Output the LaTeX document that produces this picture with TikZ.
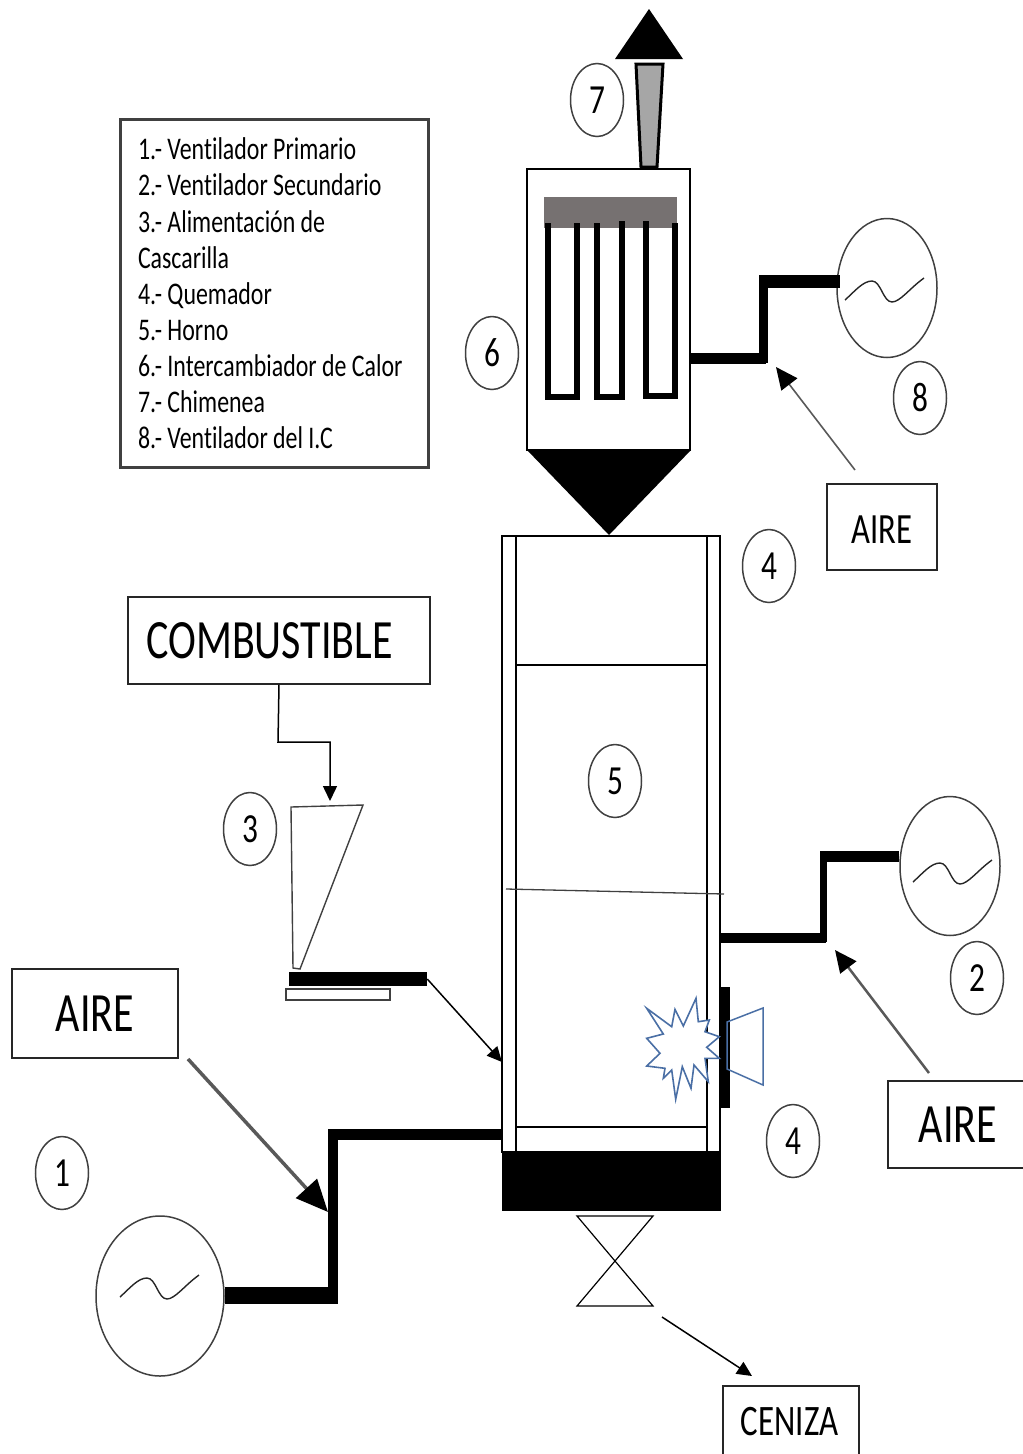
\documentclass[tikz,border=0pt]{standalone}
\usepackage{fontspec}
\setmainfont{Carlito}[Ligatures=NoCommon]
\usepackage{graphicx}
\usepackage{tikz}
\usetikzlibrary{arrows.meta,shapes.geometric,calc}
\definecolor{cLine}{HTML}{262626}
\definecolor{cEdge}{HTML}{404040}
\definecolor{cBand}{HTML}{767171}
\definecolor{cFlue}{HTML}{A6A6A6}
\definecolor{cFlame}{HTML}{4A6FA5}
\definecolor{cAir}{HTML}{595959}
\newcommand{\px}{0.75pt}
\newcommand{\tall}[1]{\scalebox{1}[1.32]{#1}}
\tikzset{
  node-box/.style={draw=cLine,line width=1.5*\px,inner sep=0pt,align=center},
  node-mark/.style={draw=cEdge,line width=1.5*\px,ellipse,inner sep=0pt,
    minimum width=53*\px,minimum height=73*\px,font=\fontsize{23.5}{28}\selectfont},
  node-fan/.style={draw=cEdge,line width=1.5*\px,ellipse,inner sep=0pt},
  node-wall/.style={draw=black,line width=1.5*\px,inner sep=0pt},
  duct/.style={draw=black,line cap=rect},
  tube/.style={draw=black,line width=6*\px,line cap=rect},
  wire/.style={draw=cLine,line width=1.4*\px},
  arrow-feed/.style={-{Triangle[length=15*\px,width=14*\px]},draw=black,line width=1.5*\px},
  arrow-air/.style={-{Triangle[length=22*\px,width=20*\px,color=black]},draw=cAir,line width=2.5*\px},
  arrow-main/.style={-{Triangle[length=32*\px,width=28*\px,color=black]},draw=cAir,line width=3.5*\px},
}
\begin{document}
\begin{tikzpicture}[x=0.75pt,y=-0.75pt]
  \useasboundingbox (0,0) rectangle (1022,1454);

  % leyenda
  \node[node-box,draw=cEdge,line width=3*\px,minimum width=308*\px,minimum height=348*\px] (legend) at (274,293)
    {\tall{\parbox{204pt}{\vspace*{0.4pt}\raggedright\fontsize{17.9}{20.5}\selectfont
      1.- Ventilador Primario\\2.- Ventilador Secundario\\3.- Alimentación de\\Cascarilla\\4.- Quemador\\
      5.- Horno\\6.- Intercambiador de Calor\\7.- Chimenea\\8.- Ventilador del I.C}}};

  % cajas de texto
  \node[node-box,minimum width=302*\px,minimum height=87*\px,font=\fontsize{31.5}{36}\selectfont] (fuel) at (279,640.5) {\tall{COMBUSTIBLE\hspace{14pt}}};
  \node[node-box,minimum width=166*\px,minimum height=89*\px,font=\fontsize{31.5}{36}\selectfont] (air-a) at (95,1013.5) {\tall{AIRE}};
  \node[node-box,minimum width=140*\px,minimum height=87*\px,font=\fontsize{31.5}{36}\selectfont] (air-b) at (958,1124.5) {\tall{AIRE}};
  \node[node-box,minimum width=110*\px,minimum height=86*\px,font=\fontsize{24.5}{28}\selectfont] (air-c) at (882,527) {\raisebox{-12.6pt}[14pt][14pt]{\tall{AIRE}}};
  \node[node-box,minimum width=136*\px,minimum height=72*\px,font=\fontsize{24.7}{28}\selectfont] (ash) at (791,1422) {\tall{CENIZA\hspace{2pt}}};

  % horno
  \node[node-wall,minimum width=218*\px,minimum height=616*\px] (furnace) at (611,844) {};
  \draw[node-wall] (516,536) -- (516,1152);
  \draw[node-wall] (707,536) -- (707,1152);
  \draw[node-wall] (516,665) -- (707,665);
  \draw[node-wall] (516,1127) -- (707,1127);
  \draw[draw=cEdge,line width=1.3*\px] (506,889) -- (724,894);
  \node[fill=black,inner sep=0pt,minimum width=219*\px,minimum height=60*\px] (base) at (611,1181) {};
  \draw[node-wall,line width=1.2*\px] (577,1216) -- (653,1216) -- (577,1306) -- (653,1306) -- cycle;

  % intercambiador y chimenea
  \node[node-wall,minimum width=163*\px,minimum height=281*\px] (exch) at (608.5,309.5) {};
  \fill[black] (527,450) -- (691,450) -- (609,535) -- cycle;
  \node[fill=cBand,inner sep=0pt,minimum width=133*\px,minimum height=31*\px] (band) at (610.5,212.5) {};
  \draw[tube] (547.5,226) -- (547.5,397) -- (577,397) -- (577,226);
  \draw[tube] (597,226) -- (597,397) -- (622,397) -- (622,224);
  \draw[tube] (646,224) -- (646,396) -- (675,396) -- (675,226);
  \draw[fill=cFlue,draw=black,line width=3*\px] (636,64) -- (663,64) -- (657,167) -- (641,167) -- cycle;
  \fill[black] (615,59) -- (683,59) -- (649,9) -- cycle;

  % tolva
  \draw[draw=cEdge,line width=1.4*\px] (291,807) -- (363,805) -- (300,969) -- (293,968) -- cycle;
  \node[fill=black,inner sep=0pt,minimum width=138*\px,minimum height=14*\px] (feeder) at (358,979) {};
  \node[node-wall,draw=cEdge,minimum width=104*\px,minimum height=11*\px] (tray) at (338,994.5) {};

  % quemador
  \node[fill=black,inner sep=0pt,minimum width=10*\px,minimum height=121*\px] (burner) at (725,1047.5) {};
  \draw[draw=cFlame,line width=1.5*\px] (727,1022) -- (763,1008) -- (763,1085) -- (727,1069) -- cycle;
  \draw[draw=cFlame,fill=white,line width=1.6*\px] (646.7,1008.3) -- (671.7,1026.7) -- (675,1009.3) -- (683.3,1026) -- (696,998.3)
    -- (698.3,1021.7) -- (709.3,1020) -- (705,1031.7) -- (719.3,1036.7) -- (706.7,1047.3) -- (719.3,1058.3)
    -- (705,1058.3) -- (708.3,1081.7) -- (694,1065) -- (691,1088.3) -- (682.3,1066.7) -- (675.7,1099.3)
    -- (671.7,1070) -- (663.3,1078.3) -- (665,1068.3) -- (646.7,1066) -- (660,1053.3) -- (646.7,1038.3) -- (663.3,1034) -- cycle;

  % ventiladores
  \node[node-fan,minimum width=128*\px,minimum height=160*\px] (fan-a) at (160,1296) {};
  \node[node-fan,minimum width=100*\px,minimum height=139*\px] (fan-b) at (950,866) {};
  \node[node-fan,minimum width=100*\px,minimum height=139*\px] (fan-c) at (887,288) {};
  \foreach \sx/\sy in {120/1297,913/882,845/300}
    \draw[wire,shift={(\sx,\sy)}] (0,0) .. controls (10,-9) and (18,-19) .. (27,-19)
      .. controls (36,-19) and (38,2) .. (47,2) .. controls (55,2) and (65,-12) .. (79,-22);

  % conductos
  \coordinate (duct-a1) at (333,1295.5);
  \coordinate (duct-a2) at (333,1134);
  \coordinate (duct-b1) at (823,938);
  \coordinate (duct-b2) at (823,856);
  \coordinate (duct-c1) at (763,358);
  \coordinate (duct-c2) at (763,281);
  \draw[duct,line width=17*\px,line cap=butt] (fan-a.east |- duct-a1) -- ($(duct-a1)+(5,0)$);
  \draw[duct,line width=10*\px] (duct-a1) -- (duct-a2);
  \draw[duct,line width=11*\px,line cap=butt] ($(duct-a2)+(-5,0)$) -- (duct-a2 -| furnace.west);
  \draw[duct,line width=10*\px,line cap=butt] (furnace.east |- duct-b1) -- ($(duct-b1)+(3,0)$);
  \draw[duct,line width=7*\px] (duct-b1) -- (duct-b2);
  \draw[duct,line width=11*\px,line cap=butt] ($(duct-b2)+(-3,0)$) -- (fan-b.west |- duct-b2);
  \draw[duct,line width=11*\px,line cap=butt] (exch.east |- duct-c1) -- ($(duct-c1)+(3,0)$);
  \draw[duct,line width=9*\px] (duct-c1) -- (duct-c2);
  \draw[duct,line width=13*\px,line cap=butt] ($(duct-c2)+(-4,0)$) -- (840,281);

  % flechas
  \coordinate (feed-in) at (502,1062);
  \coordinate (ash-from) at (662,1317);
  \coordinate (ash-to) at (752,1376);
  \coordinate (air-a-from) at (188,1059);
  \coordinate (air-a-to) at (328,1212);
  \coordinate (air-b-from) at (929,1073);
  \coordinate (air-b-to) at (835,950);
  \coordinate (air-c-from) at (855,470);
  \coordinate (air-c-to) at (776,367);
  \coordinate (hopper-in) at (330,801);
  \draw[arrow-feed] (fuel.south) -- (278,742) -- (330,742) -- (hopper-in);
  \draw[arrow-feed] (feeder.east) -- (feed-in);
  \draw[arrow-feed] (ash-from) -- (ash-to);
  \draw[arrow-main] (air-a-from) -- (air-a-to);
  \draw[arrow-air] (air-b-from) -- (air-b-to);
  \draw[arrow-air,line width=1.6*\px] (air-c-from) -- (air-c-to);

  % numeros
  \foreach \nx/\ny/\num/\tag in {62/1173/1/a,977/978/2/b,250/829/3/c,769/566/4/d,793/1141/4/e,615/781/5/f,492/353/6/g,597/100/7/h,920/398/8/i}
    \node[node-mark] (mark-\tag) at (\nx,\ny) {\raisebox{-1pt}{\tall{\num}}};
\end{tikzpicture}
\end{document}
